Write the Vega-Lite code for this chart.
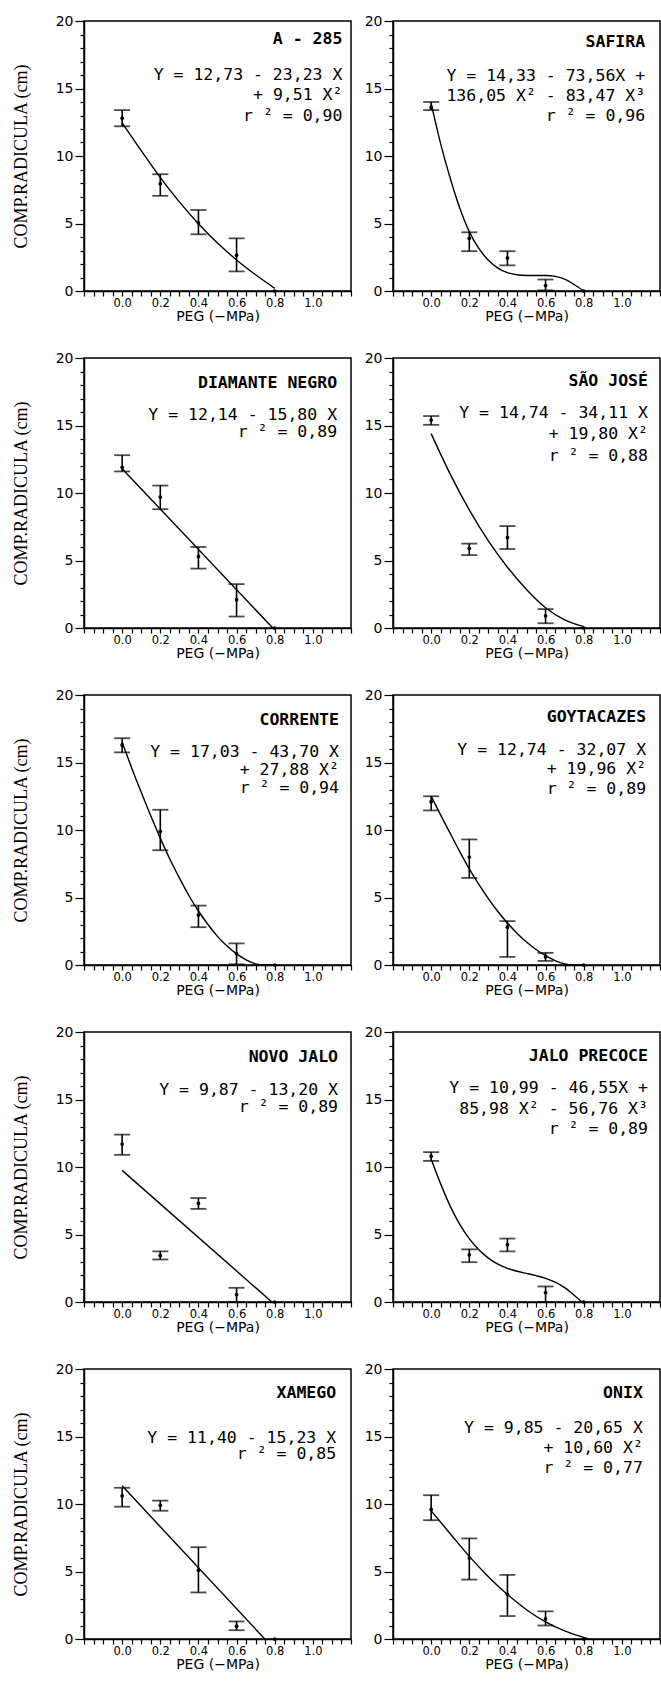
{
"$schema": "https://vega.github.io/schema/vega-lite/v6.json",
"padding": {"left": 11, "top": 13, "right": 0, "bottom": 0},
"background": "white",
"spacing": 25,
"datasets": {
"curves": [
{"c":"A - 285","x":0,"m":12.45},{"c":"A - 285","x":0.1,"m":10.4},{"c":"A - 285","x":0.2,"m":8.4},{"c":"A - 285","x":0.3,"m":6.6},{"c":"A - 285","x":0.4,"m":4.98},{"c":"A - 285","x":0.5,"m":3.55},{"c":"A - 285","x":0.6,"m":2.3},{"c":"A - 285","x":0.7,"m":1.2},{"c":"A - 285","x":0.8,"m":0.2},
{"c":"SAFIRA","x":0,"m":13.9},{"c":"SAFIRA","x":0.05,"m":10.9},{"c":"SAFIRA","x":0.1,"m":8.35},{"c":"SAFIRA","x":0.15,"m":6.15},{"c":"SAFIRA","x":0.2,"m":4.4},{"c":"SAFIRA","x":0.25,"m":3.15},{"c":"SAFIRA","x":0.3,"m":2.28},{"c":"SAFIRA","x":0.35,"m":1.7},{"c":"SAFIRA","x":0.4,"m":1.36},{"c":"SAFIRA","x":0.45,"m":1.2},{"c":"SAFIRA","x":0.5,"m":1.15},{"c":"SAFIRA","x":0.55,"m":1.15},{"c":"SAFIRA","x":0.6,"m":1.15},{"c":"SAFIRA","x":0.65,"m":1.08},{"c":"SAFIRA","x":0.7,"m":0.88},{"c":"SAFIRA","x":0.75,"m":0.48},{"c":"SAFIRA","x":0.8,"m":0},
{"c":"DIAMANTE NEGRO","x":0,"m":11.8},{"c":"DIAMANTE NEGRO","x":0.79,"m":0},
{"c":"SÃO JOSÉ","x":0,"m":14.4},{"c":"SÃO JOSÉ","x":0.1,"m":11.4},{"c":"SÃO JOSÉ","x":0.2,"m":8.75},{"c":"SÃO JOSÉ","x":0.3,"m":6.45},{"c":"SÃO JOSÉ","x":0.4,"m":4.5},{"c":"SÃO JOSÉ","x":0.5,"m":2.85},{"c":"SÃO JOSÉ","x":0.6,"m":1.5},{"c":"SÃO JOSÉ","x":0.7,"m":0.6},{"c":"SÃO JOSÉ","x":0.8,"m":0.1},
{"c":"CORRENTE","x":0,"m":16.5},{"c":"CORRENTE","x":0.05,"m":14.6},{"c":"CORRENTE","x":0.1,"m":12.8},{"c":"CORRENTE","x":0.15,"m":11.05},{"c":"CORRENTE","x":0.2,"m":9.4},{"c":"CORRENTE","x":0.25,"m":7.85},{"c":"CORRENTE","x":0.3,"m":6.45},{"c":"CORRENTE","x":0.35,"m":5.15},{"c":"CORRENTE","x":0.4,"m":4.0},{"c":"CORRENTE","x":0.45,"m":3.0},{"c":"CORRENTE","x":0.5,"m":2.12},{"c":"CORRENTE","x":0.55,"m":1.4},{"c":"CORRENTE","x":0.6,"m":0.82},{"c":"CORRENTE","x":0.65,"m":0.38},{"c":"CORRENTE","x":0.7,"m":0.08},{"c":"CORRENTE","x":0.73,"m":0},{"c":"CORRENTE","x":0.8,"m":0},
{"c":"GOYTACAZES","x":0,"m":12.5},{"c":"GOYTACAZES","x":0.05,"m":11.1},{"c":"GOYTACAZES","x":0.1,"m":9.75},{"c":"GOYTACAZES","x":0.15,"m":8.4},{"c":"GOYTACAZES","x":0.2,"m":7.12},{"c":"GOYTACAZES","x":0.25,"m":5.97},{"c":"GOYTACAZES","x":0.3,"m":4.92},{"c":"GOYTACAZES","x":0.35,"m":3.96},{"c":"GOYTACAZES","x":0.4,"m":3.11},{"c":"GOYTACAZES","x":0.45,"m":2.36},{"c":"GOYTACAZES","x":0.5,"m":1.7},{"c":"GOYTACAZES","x":0.55,"m":1.15},{"c":"GOYTACAZES","x":0.6,"m":0.69},{"c":"GOYTACAZES","x":0.65,"m":0.33},{"c":"GOYTACAZES","x":0.7,"m":0.08},{"c":"GOYTACAZES","x":0.74,"m":0},{"c":"GOYTACAZES","x":0.8,"m":0},
{"c":"NOVO JALO","x":0,"m":9.75},{"c":"NOVO JALO","x":0.785,"m":0},
{"c":"JALO PRECOCE","x":0,"m":10.6},{"c":"JALO PRECOCE","x":0.05,"m":8.75},{"c":"JALO PRECOCE","x":0.1,"m":7.1},{"c":"JALO PRECOCE","x":0.15,"m":5.75},{"c":"JALO PRECOCE","x":0.2,"m":4.7},{"c":"JALO PRECOCE","x":0.25,"m":3.87},{"c":"JALO PRECOCE","x":0.3,"m":3.25},{"c":"JALO PRECOCE","x":0.35,"m":2.8},{"c":"JALO PRECOCE","x":0.4,"m":2.49},{"c":"JALO PRECOCE","x":0.45,"m":2.28},{"c":"JALO PRECOCE","x":0.5,"m":2.12},{"c":"JALO PRECOCE","x":0.55,"m":1.95},{"c":"JALO PRECOCE","x":0.6,"m":1.75},{"c":"JALO PRECOCE","x":0.65,"m":1.47},{"c":"JALO PRECOCE","x":0.7,"m":1.07},{"c":"JALO PRECOCE","x":0.75,"m":0.5},{"c":"JALO PRECOCE","x":0.79,"m":0},
{"c":"XAMEGO","x":0,"m":11.35},{"c":"XAMEGO","x":0.748,"m":0},
{"c":"ONIX","x":0,"m":9.5},{"c":"ONIX","x":0.1,"m":7.8},{"c":"ONIX","x":0.2,"m":6.12},{"c":"ONIX","x":0.3,"m":4.62},{"c":"ONIX","x":0.4,"m":3.3},{"c":"ONIX","x":0.5,"m":2.17},{"c":"ONIX","x":0.6,"m":1.27},{"c":"ONIX","x":0.7,"m":0.6},{"c":"ONIX","x":0.8,"m":0.12},{"c":"ONIX","x":0.82,"m":0.05}
],
"means": [
{"c":"A - 285","x":0,"m":12.8,"lo":12.2,"hi":13.4},{"c":"A - 285","x":0.2,"m":7.95,"lo":7.05,"hi":8.65},{"c":"A - 285","x":0.4,"m":5.05,"lo":4.2,"hi":6.0},{"c":"A - 285","x":0.6,"m":2.65,"lo":1.45,"hi":3.9},{"c":"A - 285","x":0.8,"m":0},
{"c":"SAFIRA","x":0,"m":13.6,"lo":13.4,"hi":14.0},{"c":"SAFIRA","x":0.2,"m":3.9,"lo":2.95,"hi":4.35},{"c":"SAFIRA","x":0.4,"m":2.45,"lo":1.9,"hi":2.95},{"c":"SAFIRA","x":0.6,"m":0.4,"lo":0.05,"hi":0.85},{"c":"SAFIRA","x":0.8,"m":0},
{"c":"DIAMANTE NEGRO","x":0,"m":11.9,"lo":11.6,"hi":12.8},{"c":"DIAMANTE NEGRO","x":0.2,"m":9.7,"lo":8.8,"hi":10.55},{"c":"DIAMANTE NEGRO","x":0.4,"m":5.3,"lo":4.4,"hi":6.0},{"c":"DIAMANTE NEGRO","x":0.6,"m":2.1,"lo":0.85,"hi":3.25},{"c":"DIAMANTE NEGRO","x":0.8,"m":0},
{"c":"SÃO JOSÉ","x":0,"m":15.4,"lo":15.05,"hi":15.7},{"c":"SÃO JOSÉ","x":0.2,"m":5.9,"lo":5.4,"hi":6.25},{"c":"SÃO JOSÉ","x":0.4,"m":6.7,"lo":5.85,"hi":7.55},{"c":"SÃO JOSÉ","x":0.6,"m":0.9,"lo":0.35,"hi":1.4},{"c":"SÃO JOSÉ","x":0.8,"m":0},
{"c":"CORRENTE","x":0,"m":16.3,"lo":15.75,"hi":16.8},{"c":"CORRENTE","x":0.2,"m":9.9,"lo":8.5,"hi":11.5},{"c":"CORRENTE","x":0.4,"m":3.7,"lo":2.8,"hi":4.4},{"c":"CORRENTE","x":0.6,"m":0.85,"lo":0.05,"hi":1.6},{"c":"CORRENTE","x":0.8,"m":0},
{"c":"GOYTACAZES","x":0,"m":12.1,"lo":11.45,"hi":12.5},{"c":"GOYTACAZES","x":0.2,"m":8.0,"lo":6.45,"hi":9.3},{"c":"GOYTACAZES","x":0.4,"m":2.8,"lo":0.6,"hi":3.25},{"c":"GOYTACAZES","x":0.6,"m":0.6,"lo":0.3,"hi":0.9},{"c":"GOYTACAZES","x":0.8,"m":0},
{"c":"NOVO JALO","x":0,"m":11.7,"lo":10.9,"hi":12.4},{"c":"NOVO JALO","x":0.2,"m":3.45,"lo":3.15,"hi":3.75},{"c":"NOVO JALO","x":0.4,"m":7.3,"lo":6.9,"hi":7.7},{"c":"NOVO JALO","x":0.6,"m":0.55,"lo":0.0,"hi":1.05},{"c":"NOVO JALO","x":0.8,"m":0},
{"c":"JALO PRECOCE","x":0,"m":10.8,"lo":10.45,"hi":11.1},{"c":"JALO PRECOCE","x":0.2,"m":3.5,"lo":2.95,"hi":3.9},{"c":"JALO PRECOCE","x":0.4,"m":4.25,"lo":3.75,"hi":4.7},{"c":"JALO PRECOCE","x":0.6,"m":0.7,"lo":0.0,"hi":1.15},{"c":"JALO PRECOCE","x":0.8,"m":0},
{"c":"XAMEGO","x":0,"m":10.6,"lo":9.8,"hi":11.2},{"c":"XAMEGO","x":0.2,"m":9.9,"lo":9.5,"hi":10.25},{"c":"XAMEGO","x":0.4,"m":5.1,"lo":3.45,"hi":6.8},{"c":"XAMEGO","x":0.6,"m":0.95,"lo":0.65,"hi":1.3},{"c":"XAMEGO","x":0.8,"m":0},
{"c":"ONIX","x":0,"m":9.6,"lo":8.8,"hi":10.65},{"c":"ONIX","x":0.2,"m":6.0,"lo":4.4,"hi":7.45},{"c":"ONIX","x":0.4,"m":3.3,"lo":1.7,"hi":4.75},{"c":"ONIX","x":0.6,"m":1.5,"lo":1.0,"hi":2.05},{"c":"ONIX","x":0.8,"m":0}
],
"labels": [
{"c":"A - 285","eq":["Y = 12,73 - 23,23 X","+ 9,51 X²","r ² = 0,90"]},
{"c":"SAFIRA","eq":["Y = 14,33 - 73,56X +","136,05 X² - 83,47 X³","r ² = 0,96"]},
{"c":"DIAMANTE NEGRO","eq":["Y = 12,14 - 15,80 X","r ² = 0,89"]},
{"c":"SÃO JOSÉ","eq":["Y = 14,74 - 34,11 X","+ 19,80 X²","r ² = 0,88"]},
{"c":"CORRENTE","eq":["Y = 17,03 - 43,70 X","+ 27,88 X²","r ² = 0,94"]},
{"c":"GOYTACAZES","eq":["Y = 12,74 - 32,07 X","+ 19,96 X²","r ² = 0,89"]},
{"c":"NOVO JALO","eq":["Y = 9,87 - 13,20 X","r ² = 0,89"]},
{"c":"JALO PRECOCE","eq":["Y = 10,99 - 46,55X +","85,98 X² - 56,76 X³","r ² = 0,89"]},
{"c":"XAMEGO","eq":["Y = 11,40 - 15,23 X","r ² = 0,85"]},
{"c":"ONIX","eq":["Y = 9,85 - 20,65 X","+ 10,60 X²","r ² = 0,77"]}
]
},
"vconcat": [
{"spacing": 10, "hconcat": [
{"width": 267, "height": 270, "layer": [
{"data": {"name": "curves"}, "transform": [{"filter": {"field": "c", "equal": "A - 285"}}], "mark": {"type": "line", "color": "black", "strokeWidth": 1.4, "interpolate": "monotone"}, "encoding": {
"x": {"field": "x", "type": "quantitative", "scale": {"domain": [-0.2, 1.2], "nice": false, "zero": false}, "axis": {"title": "PEG (−MPa)", "values": [-0.2,-0.15,-0.1,-0.05,0,0.05,0.1,0.15,0.2,0.25,0.3,0.35,0.4,0.45,0.5,0.55,0.6,0.65,0.7,0.75,0.8,0.85,0.9,0.95,1,1.05,1.1,1.15,1.2], "labelExpr": "datum.value > -0.01 && datum.value < 1.01 && abs(datum.value * 5 - round(datum.value * 5)) < 0.001 ? format(datum.value, '.1f') : ''"}},
"y": {"field": "m", "type": "quantitative", "scale": {"domain": [0, 20], "nice": false}, "axis": {"title": "COMP.RADICULA (cm)", "values": [0,1,2,3,4,5,6,7,8,9,10,11,12,13,14,15,16,17,18,19,20], "labelExpr": "datum.value % 5 === 0 ? datum.label : ''", "tickSize": {"condition": {"test": "datum.value % 5 === 0", "value": 9}, "value": 4}}}}},
{"data": {"name": "means"}, "transform": [{"filter": {"field": "c", "equal": "A - 285"}}, {"filter": "isValid(datum.lo)"}], "mark": {"type": "errorbar", "color": "black", "thickness": 1.6, "ticks": {"size": 16, "thickness": 1.8, "color": "black"}}, "encoding": {
"x": {"field": "x", "type": "quantitative", "scale": {"domain": [-0.2, 1.2], "nice": false, "zero": false}, "axis": {"title": "PEG (−MPa)", "values": [-0.2,-0.15,-0.1,-0.05,0,0.05,0.1,0.15,0.2,0.25,0.3,0.35,0.4,0.45,0.5,0.55,0.6,0.65,0.7,0.75,0.8,0.85,0.9,0.95,1,1.05,1.1,1.15,1.2], "labelExpr": "datum.value > -0.01 && datum.value < 1.01 && abs(datum.value * 5 - round(datum.value * 5)) < 0.001 ? format(datum.value, '.1f') : ''"}},
"y": {"field": "lo", "type": "quantitative", "scale": {"domain": [0, 20], "nice": false}, "axis": {"title": "COMP.RADICULA (cm)", "values": [0,1,2,3,4,5,6,7,8,9,10,11,12,13,14,15,16,17,18,19,20], "labelExpr": "datum.value % 5 === 0 ? datum.label : ''", "tickSize": {"condition": {"test": "datum.value % 5 === 0", "value": 9}, "value": 4}}}, "y2": {"field": "hi"}}},
{"data": {"name": "means"}, "transform": [{"filter": {"field": "c", "equal": "A - 285"}}], "mark": {"type": "circle", "color": "black", "size": 14, "opacity": 1}, "encoding": {
"x": {"field": "x", "type": "quantitative", "scale": {"domain": [-0.2, 1.2], "nice": false, "zero": false}, "axis": {"title": "PEG (−MPa)", "values": [-0.2,-0.15,-0.1,-0.05,0,0.05,0.1,0.15,0.2,0.25,0.3,0.35,0.4,0.45,0.5,0.55,0.6,0.65,0.7,0.75,0.8,0.85,0.9,0.95,1,1.05,1.1,1.15,1.2], "labelExpr": "datum.value > -0.01 && datum.value < 1.01 && abs(datum.value * 5 - round(datum.value * 5)) < 0.001 ? format(datum.value, '.1f') : ''"}},
"y": {"field": "m", "type": "quantitative", "scale": {"domain": [0, 20], "nice": false}, "axis": {"title": "COMP.RADICULA (cm)", "values": [0,1,2,3,4,5,6,7,8,9,10,11,12,13,14,15,16,17,18,19,20], "labelExpr": "datum.value % 5 === 0 ? datum.label : ''", "tickSize": {"condition": {"test": "datum.value % 5 === 0", "value": 9}, "value": 4}}}}},
{"data": {"name": "labels"}, "transform": [{"filter": {"field": "c", "equal": "A - 285"}}], "mark": {"type": "text", "font": "DejaVu Sans Mono", "fontWeight": "bold", "fontSize": 16.5, "align": "right", "baseline": "alphabetic", "color": "black"}, "encoding": {"text": {"field": "c", "type": "nominal"},
"x": {"datum": 1.155, "type": "quantitative", "scale": {"domain": [-0.2, 1.2], "nice": false, "zero": false}, "axis": {"title": "PEG (−MPa)", "values": [-0.2,-0.15,-0.1,-0.05,0,0.05,0.1,0.15,0.2,0.25,0.3,0.35,0.4,0.45,0.5,0.55,0.6,0.65,0.7,0.75,0.8,0.85,0.9,0.95,1,1.05,1.1,1.15,1.2], "labelExpr": "datum.value > -0.01 && datum.value < 1.01 && abs(datum.value * 5 - round(datum.value * 5)) < 0.001 ? format(datum.value, '.1f') : ''"}},
"y": {"datum": 18.3, "type": "quantitative", "scale": {"domain": [0, 20], "nice": false}, "axis": {"title": "COMP.RADICULA (cm)", "values": [0,1,2,3,4,5,6,7,8,9,10,11,12,13,14,15,16,17,18,19,20], "labelExpr": "datum.value % 5 === 0 ? datum.label : ''", "tickSize": {"condition": {"test": "datum.value % 5 === 0", "value": 9}, "value": 4}}}}},
{"data": {"name": "labels"}, "transform": [{"filter": {"field": "c", "equal": "A - 285"}}], "mark": {"type": "text", "font": "DejaVu Sans Mono", "fontSize": 16.5, "align": "right", "baseline": "alphabetic", "lineHeight": 20.5, "color": "black"}, "encoding": {"text": {"field": "eq", "type": "nominal"},
"x": {"datum": 1.155, "type": "quantitative", "scale": {"domain": [-0.2, 1.2], "nice": false, "zero": false}, "axis": {"title": "PEG (−MPa)", "values": [-0.2,-0.15,-0.1,-0.05,0,0.05,0.1,0.15,0.2,0.25,0.3,0.35,0.4,0.45,0.5,0.55,0.6,0.65,0.7,0.75,0.8,0.85,0.9,0.95,1,1.05,1.1,1.15,1.2], "labelExpr": "datum.value > -0.01 && datum.value < 1.01 && abs(datum.value * 5 - round(datum.value * 5)) < 0.001 ? format(datum.value, '.1f') : ''"}},
"y": {"datum": 15.63, "type": "quantitative", "scale": {"domain": [0, 20], "nice": false}, "axis": {"title": "COMP.RADICULA (cm)", "values": [0,1,2,3,4,5,6,7,8,9,10,11,12,13,14,15,16,17,18,19,20], "labelExpr": "datum.value % 5 === 0 ? datum.label : ''", "tickSize": {"condition": {"test": "datum.value % 5 === 0", "value": 9}, "value": 4}}}}}
]},
{"width": 267, "height": 270, "layer": [
{"data": {"name": "curves"}, "transform": [{"filter": {"field": "c", "equal": "SAFIRA"}}], "mark": {"type": "line", "color": "black", "strokeWidth": 1.4, "interpolate": "monotone"}, "encoding": {
"x": {"field": "x", "type": "quantitative", "scale": {"domain": [-0.2, 1.2], "nice": false, "zero": false}, "axis": {"title": "PEG (−MPa)", "values": [-0.2,-0.15,-0.1,-0.05,0,0.05,0.1,0.15,0.2,0.25,0.3,0.35,0.4,0.45,0.5,0.55,0.6,0.65,0.7,0.75,0.8,0.85,0.9,0.95,1,1.05,1.1,1.15,1.2], "labelExpr": "datum.value > -0.01 && datum.value < 1.01 && abs(datum.value * 5 - round(datum.value * 5)) < 0.001 ? format(datum.value, '.1f') : ''"}},
"y": {"field": "m", "type": "quantitative", "scale": {"domain": [0, 20], "nice": false}, "axis": {"title": null, "values": [0,1,2,3,4,5,6,7,8,9,10,11,12,13,14,15,16,17,18,19,20], "labelExpr": "datum.value % 5 === 0 ? datum.label : ''", "tickSize": {"condition": {"test": "datum.value % 5 === 0", "value": 9}, "value": 4}}}}},
{"data": {"name": "means"}, "transform": [{"filter": {"field": "c", "equal": "SAFIRA"}}, {"filter": "isValid(datum.lo)"}], "mark": {"type": "errorbar", "color": "black", "thickness": 1.6, "ticks": {"size": 16, "thickness": 1.8, "color": "black"}}, "encoding": {
"x": {"field": "x", "type": "quantitative", "scale": {"domain": [-0.2, 1.2], "nice": false, "zero": false}, "axis": {"title": "PEG (−MPa)", "values": [-0.2,-0.15,-0.1,-0.05,0,0.05,0.1,0.15,0.2,0.25,0.3,0.35,0.4,0.45,0.5,0.55,0.6,0.65,0.7,0.75,0.8,0.85,0.9,0.95,1,1.05,1.1,1.15,1.2], "labelExpr": "datum.value > -0.01 && datum.value < 1.01 && abs(datum.value * 5 - round(datum.value * 5)) < 0.001 ? format(datum.value, '.1f') : ''"}},
"y": {"field": "lo", "type": "quantitative", "scale": {"domain": [0, 20], "nice": false}, "axis": {"title": null, "values": [0,1,2,3,4,5,6,7,8,9,10,11,12,13,14,15,16,17,18,19,20], "labelExpr": "datum.value % 5 === 0 ? datum.label : ''", "tickSize": {"condition": {"test": "datum.value % 5 === 0", "value": 9}, "value": 4}}}, "y2": {"field": "hi"}}},
{"data": {"name": "means"}, "transform": [{"filter": {"field": "c", "equal": "SAFIRA"}}], "mark": {"type": "circle", "color": "black", "size": 14, "opacity": 1}, "encoding": {
"x": {"field": "x", "type": "quantitative", "scale": {"domain": [-0.2, 1.2], "nice": false, "zero": false}, "axis": {"title": "PEG (−MPa)", "values": [-0.2,-0.15,-0.1,-0.05,0,0.05,0.1,0.15,0.2,0.25,0.3,0.35,0.4,0.45,0.5,0.55,0.6,0.65,0.7,0.75,0.8,0.85,0.9,0.95,1,1.05,1.1,1.15,1.2], "labelExpr": "datum.value > -0.01 && datum.value < 1.01 && abs(datum.value * 5 - round(datum.value * 5)) < 0.001 ? format(datum.value, '.1f') : ''"}},
"y": {"field": "m", "type": "quantitative", "scale": {"domain": [0, 20], "nice": false}, "axis": {"title": null, "values": [0,1,2,3,4,5,6,7,8,9,10,11,12,13,14,15,16,17,18,19,20], "labelExpr": "datum.value % 5 === 0 ? datum.label : ''", "tickSize": {"condition": {"test": "datum.value % 5 === 0", "value": 9}, "value": 4}}}}},
{"data": {"name": "labels"}, "transform": [{"filter": {"field": "c", "equal": "SAFIRA"}}], "mark": {"type": "text", "font": "DejaVu Sans Mono", "fontWeight": "bold", "fontSize": 16.5, "align": "right", "baseline": "alphabetic", "color": "black"}, "encoding": {"text": {"field": "c", "type": "nominal"},
"x": {"datum": 1.122, "type": "quantitative", "scale": {"domain": [-0.2, 1.2], "nice": false, "zero": false}, "axis": {"title": "PEG (−MPa)", "values": [-0.2,-0.15,-0.1,-0.05,0,0.05,0.1,0.15,0.2,0.25,0.3,0.35,0.4,0.45,0.5,0.55,0.6,0.65,0.7,0.75,0.8,0.85,0.9,0.95,1,1.05,1.1,1.15,1.2], "labelExpr": "datum.value > -0.01 && datum.value < 1.01 && abs(datum.value * 5 - round(datum.value * 5)) < 0.001 ? format(datum.value, '.1f') : ''"}},
"y": {"datum": 18.07, "type": "quantitative", "scale": {"domain": [0, 20], "nice": false}, "axis": {"title": null, "values": [0,1,2,3,4,5,6,7,8,9,10,11,12,13,14,15,16,17,18,19,20], "labelExpr": "datum.value % 5 === 0 ? datum.label : ''", "tickSize": {"condition": {"test": "datum.value % 5 === 0", "value": 9}, "value": 4}}}}},
{"data": {"name": "labels"}, "transform": [{"filter": {"field": "c", "equal": "SAFIRA"}}], "mark": {"type": "text", "font": "DejaVu Sans Mono", "fontSize": 16.5, "align": "right", "baseline": "alphabetic", "lineHeight": 20, "color": "black"}, "encoding": {"text": {"field": "eq", "type": "nominal"},
"x": {"datum": 1.122, "type": "quantitative", "scale": {"domain": [-0.2, 1.2], "nice": false, "zero": false}, "axis": {"title": "PEG (−MPa)", "values": [-0.2,-0.15,-0.1,-0.05,0,0.05,0.1,0.15,0.2,0.25,0.3,0.35,0.4,0.45,0.5,0.55,0.6,0.65,0.7,0.75,0.8,0.85,0.9,0.95,1,1.05,1.1,1.15,1.2], "labelExpr": "datum.value > -0.01 && datum.value < 1.01 && abs(datum.value * 5 - round(datum.value * 5)) < 0.001 ? format(datum.value, '.1f') : ''"}},
"y": {"datum": 15.56, "type": "quantitative", "scale": {"domain": [0, 20], "nice": false}, "axis": {"title": null, "values": [0,1,2,3,4,5,6,7,8,9,10,11,12,13,14,15,16,17,18,19,20], "labelExpr": "datum.value % 5 === 0 ? datum.label : ''", "tickSize": {"condition": {"test": "datum.value % 5 === 0", "value": 9}, "value": 4}}}}}
]}
]},
{"spacing": 10, "hconcat": [
{"width": 267, "height": 270, "layer": [
{"data": {"name": "curves"}, "transform": [{"filter": {"field": "c", "equal": "DIAMANTE NEGRO"}}], "mark": {"type": "line", "color": "black", "strokeWidth": 1.4, "interpolate": "monotone"}, "encoding": {
"x": {"field": "x", "type": "quantitative", "scale": {"domain": [-0.2, 1.2], "nice": false, "zero": false}, "axis": {"title": "PEG (−MPa)", "values": [-0.2,-0.15,-0.1,-0.05,0,0.05,0.1,0.15,0.2,0.25,0.3,0.35,0.4,0.45,0.5,0.55,0.6,0.65,0.7,0.75,0.8,0.85,0.9,0.95,1,1.05,1.1,1.15,1.2], "labelExpr": "datum.value > -0.01 && datum.value < 1.01 && abs(datum.value * 5 - round(datum.value * 5)) < 0.001 ? format(datum.value, '.1f') : ''"}},
"y": {"field": "m", "type": "quantitative", "scale": {"domain": [0, 20], "nice": false}, "axis": {"title": "COMP.RADICULA (cm)", "values": [0,1,2,3,4,5,6,7,8,9,10,11,12,13,14,15,16,17,18,19,20], "labelExpr": "datum.value % 5 === 0 ? datum.label : ''", "tickSize": {"condition": {"test": "datum.value % 5 === 0", "value": 9}, "value": 4}}}}},
{"data": {"name": "means"}, "transform": [{"filter": {"field": "c", "equal": "DIAMANTE NEGRO"}}, {"filter": "isValid(datum.lo)"}], "mark": {"type": "errorbar", "color": "black", "thickness": 1.6, "ticks": {"size": 16, "thickness": 1.8, "color": "black"}}, "encoding": {
"x": {"field": "x", "type": "quantitative", "scale": {"domain": [-0.2, 1.2], "nice": false, "zero": false}, "axis": {"title": "PEG (−MPa)", "values": [-0.2,-0.15,-0.1,-0.05,0,0.05,0.1,0.15,0.2,0.25,0.3,0.35,0.4,0.45,0.5,0.55,0.6,0.65,0.7,0.75,0.8,0.85,0.9,0.95,1,1.05,1.1,1.15,1.2], "labelExpr": "datum.value > -0.01 && datum.value < 1.01 && abs(datum.value * 5 - round(datum.value * 5)) < 0.001 ? format(datum.value, '.1f') : ''"}},
"y": {"field": "lo", "type": "quantitative", "scale": {"domain": [0, 20], "nice": false}, "axis": {"title": "COMP.RADICULA (cm)", "values": [0,1,2,3,4,5,6,7,8,9,10,11,12,13,14,15,16,17,18,19,20], "labelExpr": "datum.value % 5 === 0 ? datum.label : ''", "tickSize": {"condition": {"test": "datum.value % 5 === 0", "value": 9}, "value": 4}}}, "y2": {"field": "hi"}}},
{"data": {"name": "means"}, "transform": [{"filter": {"field": "c", "equal": "DIAMANTE NEGRO"}}], "mark": {"type": "circle", "color": "black", "size": 14, "opacity": 1}, "encoding": {
"x": {"field": "x", "type": "quantitative", "scale": {"domain": [-0.2, 1.2], "nice": false, "zero": false}, "axis": {"title": "PEG (−MPa)", "values": [-0.2,-0.15,-0.1,-0.05,0,0.05,0.1,0.15,0.2,0.25,0.3,0.35,0.4,0.45,0.5,0.55,0.6,0.65,0.7,0.75,0.8,0.85,0.9,0.95,1,1.05,1.1,1.15,1.2], "labelExpr": "datum.value > -0.01 && datum.value < 1.01 && abs(datum.value * 5 - round(datum.value * 5)) < 0.001 ? format(datum.value, '.1f') : ''"}},
"y": {"field": "m", "type": "quantitative", "scale": {"domain": [0, 20], "nice": false}, "axis": {"title": "COMP.RADICULA (cm)", "values": [0,1,2,3,4,5,6,7,8,9,10,11,12,13,14,15,16,17,18,19,20], "labelExpr": "datum.value % 5 === 0 ? datum.label : ''", "tickSize": {"condition": {"test": "datum.value % 5 === 0", "value": 9}, "value": 4}}}}},
{"data": {"name": "labels"}, "transform": [{"filter": {"field": "c", "equal": "DIAMANTE NEGRO"}}], "mark": {"type": "text", "font": "DejaVu Sans Mono", "fontWeight": "bold", "fontSize": 16.5, "align": "right", "baseline": "alphabetic", "color": "black"}, "encoding": {"text": {"field": "c", "type": "nominal"},
"x": {"datum": 1.127, "type": "quantitative", "scale": {"domain": [-0.2, 1.2], "nice": false, "zero": false}, "axis": {"title": "PEG (−MPa)", "values": [-0.2,-0.15,-0.1,-0.05,0,0.05,0.1,0.15,0.2,0.25,0.3,0.35,0.4,0.45,0.5,0.55,0.6,0.65,0.7,0.75,0.8,0.85,0.9,0.95,1,1.05,1.1,1.15,1.2], "labelExpr": "datum.value > -0.01 && datum.value < 1.01 && abs(datum.value * 5 - round(datum.value * 5)) < 0.001 ? format(datum.value, '.1f') : ''"}},
"y": {"datum": 17.8, "type": "quantitative", "scale": {"domain": [0, 20], "nice": false}, "axis": {"title": "COMP.RADICULA (cm)", "values": [0,1,2,3,4,5,6,7,8,9,10,11,12,13,14,15,16,17,18,19,20], "labelExpr": "datum.value % 5 === 0 ? datum.label : ''", "tickSize": {"condition": {"test": "datum.value % 5 === 0", "value": 9}, "value": 4}}}}},
{"data": {"name": "labels"}, "transform": [{"filter": {"field": "c", "equal": "DIAMANTE NEGRO"}}], "mark": {"type": "text", "font": "DejaVu Sans Mono", "fontSize": 16.5, "align": "right", "baseline": "alphabetic", "lineHeight": 16.5, "color": "black"}, "encoding": {"text": {"field": "eq", "type": "nominal"},
"x": {"datum": 1.127, "type": "quantitative", "scale": {"domain": [-0.2, 1.2], "nice": false, "zero": false}, "axis": {"title": "PEG (−MPa)", "values": [-0.2,-0.15,-0.1,-0.05,0,0.05,0.1,0.15,0.2,0.25,0.3,0.35,0.4,0.45,0.5,0.55,0.6,0.65,0.7,0.75,0.8,0.85,0.9,0.95,1,1.05,1.1,1.15,1.2], "labelExpr": "datum.value > -0.01 && datum.value < 1.01 && abs(datum.value * 5 - round(datum.value * 5)) < 0.001 ? format(datum.value, '.1f') : ''"}},
"y": {"datum": 15.4, "type": "quantitative", "scale": {"domain": [0, 20], "nice": false}, "axis": {"title": "COMP.RADICULA (cm)", "values": [0,1,2,3,4,5,6,7,8,9,10,11,12,13,14,15,16,17,18,19,20], "labelExpr": "datum.value % 5 === 0 ? datum.label : ''", "tickSize": {"condition": {"test": "datum.value % 5 === 0", "value": 9}, "value": 4}}}}}
]},
{"width": 267, "height": 270, "layer": [
{"data": {"name": "curves"}, "transform": [{"filter": {"field": "c", "equal": "SÃO JOSÉ"}}], "mark": {"type": "line", "color": "black", "strokeWidth": 1.4, "interpolate": "monotone"}, "encoding": {
"x": {"field": "x", "type": "quantitative", "scale": {"domain": [-0.2, 1.2], "nice": false, "zero": false}, "axis": {"title": "PEG (−MPa)", "values": [-0.2,-0.15,-0.1,-0.05,0,0.05,0.1,0.15,0.2,0.25,0.3,0.35,0.4,0.45,0.5,0.55,0.6,0.65,0.7,0.75,0.8,0.85,0.9,0.95,1,1.05,1.1,1.15,1.2], "labelExpr": "datum.value > -0.01 && datum.value < 1.01 && abs(datum.value * 5 - round(datum.value * 5)) < 0.001 ? format(datum.value, '.1f') : ''"}},
"y": {"field": "m", "type": "quantitative", "scale": {"domain": [0, 20], "nice": false}, "axis": {"title": null, "values": [0,1,2,3,4,5,6,7,8,9,10,11,12,13,14,15,16,17,18,19,20], "labelExpr": "datum.value % 5 === 0 ? datum.label : ''", "tickSize": {"condition": {"test": "datum.value % 5 === 0", "value": 9}, "value": 4}}}}},
{"data": {"name": "means"}, "transform": [{"filter": {"field": "c", "equal": "SÃO JOSÉ"}}, {"filter": "isValid(datum.lo)"}], "mark": {"type": "errorbar", "color": "black", "thickness": 1.6, "ticks": {"size": 16, "thickness": 1.8, "color": "black"}}, "encoding": {
"x": {"field": "x", "type": "quantitative", "scale": {"domain": [-0.2, 1.2], "nice": false, "zero": false}, "axis": {"title": "PEG (−MPa)", "values": [-0.2,-0.15,-0.1,-0.05,0,0.05,0.1,0.15,0.2,0.25,0.3,0.35,0.4,0.45,0.5,0.55,0.6,0.65,0.7,0.75,0.8,0.85,0.9,0.95,1,1.05,1.1,1.15,1.2], "labelExpr": "datum.value > -0.01 && datum.value < 1.01 && abs(datum.value * 5 - round(datum.value * 5)) < 0.001 ? format(datum.value, '.1f') : ''"}},
"y": {"field": "lo", "type": "quantitative", "scale": {"domain": [0, 20], "nice": false}, "axis": {"title": null, "values": [0,1,2,3,4,5,6,7,8,9,10,11,12,13,14,15,16,17,18,19,20], "labelExpr": "datum.value % 5 === 0 ? datum.label : ''", "tickSize": {"condition": {"test": "datum.value % 5 === 0", "value": 9}, "value": 4}}}, "y2": {"field": "hi"}}},
{"data": {"name": "means"}, "transform": [{"filter": {"field": "c", "equal": "SÃO JOSÉ"}}], "mark": {"type": "circle", "color": "black", "size": 14, "opacity": 1}, "encoding": {
"x": {"field": "x", "type": "quantitative", "scale": {"domain": [-0.2, 1.2], "nice": false, "zero": false}, "axis": {"title": "PEG (−MPa)", "values": [-0.2,-0.15,-0.1,-0.05,0,0.05,0.1,0.15,0.2,0.25,0.3,0.35,0.4,0.45,0.5,0.55,0.6,0.65,0.7,0.75,0.8,0.85,0.9,0.95,1,1.05,1.1,1.15,1.2], "labelExpr": "datum.value > -0.01 && datum.value < 1.01 && abs(datum.value * 5 - round(datum.value * 5)) < 0.001 ? format(datum.value, '.1f') : ''"}},
"y": {"field": "m", "type": "quantitative", "scale": {"domain": [0, 20], "nice": false}, "axis": {"title": null, "values": [0,1,2,3,4,5,6,7,8,9,10,11,12,13,14,15,16,17,18,19,20], "labelExpr": "datum.value % 5 === 0 ? datum.label : ''", "tickSize": {"condition": {"test": "datum.value % 5 === 0", "value": 9}, "value": 4}}}}},
{"data": {"name": "labels"}, "transform": [{"filter": {"field": "c", "equal": "SÃO JOSÉ"}}], "mark": {"type": "text", "font": "DejaVu Sans Mono", "fontWeight": "bold", "fontSize": 16.5, "align": "right", "baseline": "alphabetic", "color": "black"}, "encoding": {"text": {"field": "c", "type": "nominal"},
"x": {"datum": 1.137, "type": "quantitative", "scale": {"domain": [-0.2, 1.2], "nice": false, "zero": false}, "axis": {"title": "PEG (−MPa)", "values": [-0.2,-0.15,-0.1,-0.05,0,0.05,0.1,0.15,0.2,0.25,0.3,0.35,0.4,0.45,0.5,0.55,0.6,0.65,0.7,0.75,0.8,0.85,0.9,0.95,1,1.05,1.1,1.15,1.2], "labelExpr": "datum.value > -0.01 && datum.value < 1.01 && abs(datum.value * 5 - round(datum.value * 5)) < 0.001 ? format(datum.value, '.1f') : ''"}},
"y": {"datum": 17.93, "type": "quantitative", "scale": {"domain": [0, 20], "nice": false}, "axis": {"title": null, "values": [0,1,2,3,4,5,6,7,8,9,10,11,12,13,14,15,16,17,18,19,20], "labelExpr": "datum.value % 5 === 0 ? datum.label : ''", "tickSize": {"condition": {"test": "datum.value % 5 === 0", "value": 9}, "value": 4}}}}},
{"data": {"name": "labels"}, "transform": [{"filter": {"field": "c", "equal": "SÃO JOSÉ"}}], "mark": {"type": "text", "font": "DejaVu Sans Mono", "fontSize": 16.5, "align": "right", "baseline": "alphabetic", "lineHeight": 21.5, "color": "black"}, "encoding": {"text": {"field": "eq", "type": "nominal"},
"x": {"datum": 1.137, "type": "quantitative", "scale": {"domain": [-0.2, 1.2], "nice": false, "zero": false}, "axis": {"title": "PEG (−MPa)", "values": [-0.2,-0.15,-0.1,-0.05,0,0.05,0.1,0.15,0.2,0.25,0.3,0.35,0.4,0.45,0.5,0.55,0.6,0.65,0.7,0.75,0.8,0.85,0.9,0.95,1,1.05,1.1,1.15,1.2], "labelExpr": "datum.value > -0.01 && datum.value < 1.01 && abs(datum.value * 5 - round(datum.value * 5)) < 0.001 ? format(datum.value, '.1f') : ''"}},
"y": {"datum": 15.56, "type": "quantitative", "scale": {"domain": [0, 20], "nice": false}, "axis": {"title": null, "values": [0,1,2,3,4,5,6,7,8,9,10,11,12,13,14,15,16,17,18,19,20], "labelExpr": "datum.value % 5 === 0 ? datum.label : ''", "tickSize": {"condition": {"test": "datum.value % 5 === 0", "value": 9}, "value": 4}}}}}
]}
]},
{"spacing": 10, "hconcat": [
{"width": 267, "height": 270, "layer": [
{"data": {"name": "curves"}, "transform": [{"filter": {"field": "c", "equal": "CORRENTE"}}], "mark": {"type": "line", "color": "black", "strokeWidth": 1.4, "interpolate": "monotone"}, "encoding": {
"x": {"field": "x", "type": "quantitative", "scale": {"domain": [-0.2, 1.2], "nice": false, "zero": false}, "axis": {"title": "PEG (−MPa)", "values": [-0.2,-0.15,-0.1,-0.05,0,0.05,0.1,0.15,0.2,0.25,0.3,0.35,0.4,0.45,0.5,0.55,0.6,0.65,0.7,0.75,0.8,0.85,0.9,0.95,1,1.05,1.1,1.15,1.2], "labelExpr": "datum.value > -0.01 && datum.value < 1.01 && abs(datum.value * 5 - round(datum.value * 5)) < 0.001 ? format(datum.value, '.1f') : ''"}},
"y": {"field": "m", "type": "quantitative", "scale": {"domain": [0, 20], "nice": false}, "axis": {"title": "COMP.RADICULA (cm)", "values": [0,1,2,3,4,5,6,7,8,9,10,11,12,13,14,15,16,17,18,19,20], "labelExpr": "datum.value % 5 === 0 ? datum.label : ''", "tickSize": {"condition": {"test": "datum.value % 5 === 0", "value": 9}, "value": 4}}}}},
{"data": {"name": "means"}, "transform": [{"filter": {"field": "c", "equal": "CORRENTE"}}, {"filter": "isValid(datum.lo)"}], "mark": {"type": "errorbar", "color": "black", "thickness": 1.6, "ticks": {"size": 16, "thickness": 1.8, "color": "black"}}, "encoding": {
"x": {"field": "x", "type": "quantitative", "scale": {"domain": [-0.2, 1.2], "nice": false, "zero": false}, "axis": {"title": "PEG (−MPa)", "values": [-0.2,-0.15,-0.1,-0.05,0,0.05,0.1,0.15,0.2,0.25,0.3,0.35,0.4,0.45,0.5,0.55,0.6,0.65,0.7,0.75,0.8,0.85,0.9,0.95,1,1.05,1.1,1.15,1.2], "labelExpr": "datum.value > -0.01 && datum.value < 1.01 && abs(datum.value * 5 - round(datum.value * 5)) < 0.001 ? format(datum.value, '.1f') : ''"}},
"y": {"field": "lo", "type": "quantitative", "scale": {"domain": [0, 20], "nice": false}, "axis": {"title": "COMP.RADICULA (cm)", "values": [0,1,2,3,4,5,6,7,8,9,10,11,12,13,14,15,16,17,18,19,20], "labelExpr": "datum.value % 5 === 0 ? datum.label : ''", "tickSize": {"condition": {"test": "datum.value % 5 === 0", "value": 9}, "value": 4}}}, "y2": {"field": "hi"}}},
{"data": {"name": "means"}, "transform": [{"filter": {"field": "c", "equal": "CORRENTE"}}], "mark": {"type": "circle", "color": "black", "size": 14, "opacity": 1}, "encoding": {
"x": {"field": "x", "type": "quantitative", "scale": {"domain": [-0.2, 1.2], "nice": false, "zero": false}, "axis": {"title": "PEG (−MPa)", "values": [-0.2,-0.15,-0.1,-0.05,0,0.05,0.1,0.15,0.2,0.25,0.3,0.35,0.4,0.45,0.5,0.55,0.6,0.65,0.7,0.75,0.8,0.85,0.9,0.95,1,1.05,1.1,1.15,1.2], "labelExpr": "datum.value > -0.01 && datum.value < 1.01 && abs(datum.value * 5 - round(datum.value * 5)) < 0.001 ? format(datum.value, '.1f') : ''"}},
"y": {"field": "m", "type": "quantitative", "scale": {"domain": [0, 20], "nice": false}, "axis": {"title": "COMP.RADICULA (cm)", "values": [0,1,2,3,4,5,6,7,8,9,10,11,12,13,14,15,16,17,18,19,20], "labelExpr": "datum.value % 5 === 0 ? datum.label : ''", "tickSize": {"condition": {"test": "datum.value % 5 === 0", "value": 9}, "value": 4}}}}},
{"data": {"name": "labels"}, "transform": [{"filter": {"field": "c", "equal": "CORRENTE"}}], "mark": {"type": "text", "font": "DejaVu Sans Mono", "fontWeight": "bold", "fontSize": 16.5, "align": "right", "baseline": "alphabetic", "color": "black"}, "encoding": {"text": {"field": "c", "type": "nominal"},
"x": {"datum": 1.137, "type": "quantitative", "scale": {"domain": [-0.2, 1.2], "nice": false, "zero": false}, "axis": {"title": "PEG (−MPa)", "values": [-0.2,-0.15,-0.1,-0.05,0,0.05,0.1,0.15,0.2,0.25,0.3,0.35,0.4,0.45,0.5,0.55,0.6,0.65,0.7,0.75,0.8,0.85,0.9,0.95,1,1.05,1.1,1.15,1.2], "labelExpr": "datum.value > -0.01 && datum.value < 1.01 && abs(datum.value * 5 - round(datum.value * 5)) < 0.001 ? format(datum.value, '.1f') : ''"}},
"y": {"datum": 17.78, "type": "quantitative", "scale": {"domain": [0, 20], "nice": false}, "axis": {"title": "COMP.RADICULA (cm)", "values": [0,1,2,3,4,5,6,7,8,9,10,11,12,13,14,15,16,17,18,19,20], "labelExpr": "datum.value % 5 === 0 ? datum.label : ''", "tickSize": {"condition": {"test": "datum.value % 5 === 0", "value": 9}, "value": 4}}}}},
{"data": {"name": "labels"}, "transform": [{"filter": {"field": "c", "equal": "CORRENTE"}}], "mark": {"type": "text", "font": "DejaVu Sans Mono", "fontSize": 16.5, "align": "right", "baseline": "alphabetic", "lineHeight": 18, "color": "black"}, "encoding": {"text": {"field": "eq", "type": "nominal"},
"x": {"datum": 1.137, "type": "quantitative", "scale": {"domain": [-0.2, 1.2], "nice": false, "zero": false}, "axis": {"title": "PEG (−MPa)", "values": [-0.2,-0.15,-0.1,-0.05,0,0.05,0.1,0.15,0.2,0.25,0.3,0.35,0.4,0.45,0.5,0.55,0.6,0.65,0.7,0.75,0.8,0.85,0.9,0.95,1,1.05,1.1,1.15,1.2], "labelExpr": "datum.value > -0.01 && datum.value < 1.01 && abs(datum.value * 5 - round(datum.value * 5)) < 0.001 ? format(datum.value, '.1f') : ''"}},
"y": {"datum": 15.4, "type": "quantitative", "scale": {"domain": [0, 20], "nice": false}, "axis": {"title": "COMP.RADICULA (cm)", "values": [0,1,2,3,4,5,6,7,8,9,10,11,12,13,14,15,16,17,18,19,20], "labelExpr": "datum.value % 5 === 0 ? datum.label : ''", "tickSize": {"condition": {"test": "datum.value % 5 === 0", "value": 9}, "value": 4}}}}}
]},
{"width": 267, "height": 270, "layer": [
{"data": {"name": "curves"}, "transform": [{"filter": {"field": "c", "equal": "GOYTACAZES"}}], "mark": {"type": "line", "color": "black", "strokeWidth": 1.4, "interpolate": "monotone"}, "encoding": {
"x": {"field": "x", "type": "quantitative", "scale": {"domain": [-0.2, 1.2], "nice": false, "zero": false}, "axis": {"title": "PEG (−MPa)", "values": [-0.2,-0.15,-0.1,-0.05,0,0.05,0.1,0.15,0.2,0.25,0.3,0.35,0.4,0.45,0.5,0.55,0.6,0.65,0.7,0.75,0.8,0.85,0.9,0.95,1,1.05,1.1,1.15,1.2], "labelExpr": "datum.value > -0.01 && datum.value < 1.01 && abs(datum.value * 5 - round(datum.value * 5)) < 0.001 ? format(datum.value, '.1f') : ''"}},
"y": {"field": "m", "type": "quantitative", "scale": {"domain": [0, 20], "nice": false}, "axis": {"title": null, "values": [0,1,2,3,4,5,6,7,8,9,10,11,12,13,14,15,16,17,18,19,20], "labelExpr": "datum.value % 5 === 0 ? datum.label : ''", "tickSize": {"condition": {"test": "datum.value % 5 === 0", "value": 9}, "value": 4}}}}},
{"data": {"name": "means"}, "transform": [{"filter": {"field": "c", "equal": "GOYTACAZES"}}, {"filter": "isValid(datum.lo)"}], "mark": {"type": "errorbar", "color": "black", "thickness": 1.6, "ticks": {"size": 16, "thickness": 1.8, "color": "black"}}, "encoding": {
"x": {"field": "x", "type": "quantitative", "scale": {"domain": [-0.2, 1.2], "nice": false, "zero": false}, "axis": {"title": "PEG (−MPa)", "values": [-0.2,-0.15,-0.1,-0.05,0,0.05,0.1,0.15,0.2,0.25,0.3,0.35,0.4,0.45,0.5,0.55,0.6,0.65,0.7,0.75,0.8,0.85,0.9,0.95,1,1.05,1.1,1.15,1.2], "labelExpr": "datum.value > -0.01 && datum.value < 1.01 && abs(datum.value * 5 - round(datum.value * 5)) < 0.001 ? format(datum.value, '.1f') : ''"}},
"y": {"field": "lo", "type": "quantitative", "scale": {"domain": [0, 20], "nice": false}, "axis": {"title": null, "values": [0,1,2,3,4,5,6,7,8,9,10,11,12,13,14,15,16,17,18,19,20], "labelExpr": "datum.value % 5 === 0 ? datum.label : ''", "tickSize": {"condition": {"test": "datum.value % 5 === 0", "value": 9}, "value": 4}}}, "y2": {"field": "hi"}}},
{"data": {"name": "means"}, "transform": [{"filter": {"field": "c", "equal": "GOYTACAZES"}}], "mark": {"type": "circle", "color": "black", "size": 14, "opacity": 1}, "encoding": {
"x": {"field": "x", "type": "quantitative", "scale": {"domain": [-0.2, 1.2], "nice": false, "zero": false}, "axis": {"title": "PEG (−MPa)", "values": [-0.2,-0.15,-0.1,-0.05,0,0.05,0.1,0.15,0.2,0.25,0.3,0.35,0.4,0.45,0.5,0.55,0.6,0.65,0.7,0.75,0.8,0.85,0.9,0.95,1,1.05,1.1,1.15,1.2], "labelExpr": "datum.value > -0.01 && datum.value < 1.01 && abs(datum.value * 5 - round(datum.value * 5)) < 0.001 ? format(datum.value, '.1f') : ''"}},
"y": {"field": "m", "type": "quantitative", "scale": {"domain": [0, 20], "nice": false}, "axis": {"title": null, "values": [0,1,2,3,4,5,6,7,8,9,10,11,12,13,14,15,16,17,18,19,20], "labelExpr": "datum.value % 5 === 0 ? datum.label : ''", "tickSize": {"condition": {"test": "datum.value % 5 === 0", "value": 9}, "value": 4}}}}},
{"data": {"name": "labels"}, "transform": [{"filter": {"field": "c", "equal": "GOYTACAZES"}}], "mark": {"type": "text", "font": "DejaVu Sans Mono", "fontWeight": "bold", "fontSize": 16.5, "align": "right", "baseline": "alphabetic", "color": "black"}, "encoding": {"text": {"field": "c", "type": "nominal"},
"x": {"datum": 1.127, "type": "quantitative", "scale": {"domain": [-0.2, 1.2], "nice": false, "zero": false}, "axis": {"title": "PEG (−MPa)", "values": [-0.2,-0.15,-0.1,-0.05,0,0.05,0.1,0.15,0.2,0.25,0.3,0.35,0.4,0.45,0.5,0.55,0.6,0.65,0.7,0.75,0.8,0.85,0.9,0.95,1,1.05,1.1,1.15,1.2], "labelExpr": "datum.value > -0.01 && datum.value < 1.01 && abs(datum.value * 5 - round(datum.value * 5)) < 0.001 ? format(datum.value, '.1f') : ''"}},
"y": {"datum": 18.0, "type": "quantitative", "scale": {"domain": [0, 20], "nice": false}, "axis": {"title": null, "values": [0,1,2,3,4,5,6,7,8,9,10,11,12,13,14,15,16,17,18,19,20], "labelExpr": "datum.value % 5 === 0 ? datum.label : ''", "tickSize": {"condition": {"test": "datum.value % 5 === 0", "value": 9}, "value": 4}}}}},
{"data": {"name": "labels"}, "transform": [{"filter": {"field": "c", "equal": "GOYTACAZES"}}], "mark": {"type": "text", "font": "DejaVu Sans Mono", "fontSize": 16.5, "align": "right", "baseline": "alphabetic", "lineHeight": 19.5, "color": "black"}, "encoding": {"text": {"field": "eq", "type": "nominal"},
"x": {"datum": 1.127, "type": "quantitative", "scale": {"domain": [-0.2, 1.2], "nice": false, "zero": false}, "axis": {"title": "PEG (−MPa)", "values": [-0.2,-0.15,-0.1,-0.05,0,0.05,0.1,0.15,0.2,0.25,0.3,0.35,0.4,0.45,0.5,0.55,0.6,0.65,0.7,0.75,0.8,0.85,0.9,0.95,1,1.05,1.1,1.15,1.2], "labelExpr": "datum.value > -0.01 && datum.value < 1.01 && abs(datum.value * 5 - round(datum.value * 5)) < 0.001 ? format(datum.value, '.1f') : ''"}},
"y": {"datum": 15.56, "type": "quantitative", "scale": {"domain": [0, 20], "nice": false}, "axis": {"title": null, "values": [0,1,2,3,4,5,6,7,8,9,10,11,12,13,14,15,16,17,18,19,20], "labelExpr": "datum.value % 5 === 0 ? datum.label : ''", "tickSize": {"condition": {"test": "datum.value % 5 === 0", "value": 9}, "value": 4}}}}}
]}
]},
{"spacing": 10, "hconcat": [
{"width": 267, "height": 270, "layer": [
{"data": {"name": "curves"}, "transform": [{"filter": {"field": "c", "equal": "NOVO JALO"}}], "mark": {"type": "line", "color": "black", "strokeWidth": 1.4, "interpolate": "monotone"}, "encoding": {
"x": {"field": "x", "type": "quantitative", "scale": {"domain": [-0.2, 1.2], "nice": false, "zero": false}, "axis": {"title": "PEG (−MPa)", "values": [-0.2,-0.15,-0.1,-0.05,0,0.05,0.1,0.15,0.2,0.25,0.3,0.35,0.4,0.45,0.5,0.55,0.6,0.65,0.7,0.75,0.8,0.85,0.9,0.95,1,1.05,1.1,1.15,1.2], "labelExpr": "datum.value > -0.01 && datum.value < 1.01 && abs(datum.value * 5 - round(datum.value * 5)) < 0.001 ? format(datum.value, '.1f') : ''"}},
"y": {"field": "m", "type": "quantitative", "scale": {"domain": [0, 20], "nice": false}, "axis": {"title": "COMP.RADICULA (cm)", "values": [0,1,2,3,4,5,6,7,8,9,10,11,12,13,14,15,16,17,18,19,20], "labelExpr": "datum.value % 5 === 0 ? datum.label : ''", "tickSize": {"condition": {"test": "datum.value % 5 === 0", "value": 9}, "value": 4}}}}},
{"data": {"name": "means"}, "transform": [{"filter": {"field": "c", "equal": "NOVO JALO"}}, {"filter": "isValid(datum.lo)"}], "mark": {"type": "errorbar", "color": "black", "thickness": 1.6, "ticks": {"size": 16, "thickness": 1.8, "color": "black"}}, "encoding": {
"x": {"field": "x", "type": "quantitative", "scale": {"domain": [-0.2, 1.2], "nice": false, "zero": false}, "axis": {"title": "PEG (−MPa)", "values": [-0.2,-0.15,-0.1,-0.05,0,0.05,0.1,0.15,0.2,0.25,0.3,0.35,0.4,0.45,0.5,0.55,0.6,0.65,0.7,0.75,0.8,0.85,0.9,0.95,1,1.05,1.1,1.15,1.2], "labelExpr": "datum.value > -0.01 && datum.value < 1.01 && abs(datum.value * 5 - round(datum.value * 5)) < 0.001 ? format(datum.value, '.1f') : ''"}},
"y": {"field": "lo", "type": "quantitative", "scale": {"domain": [0, 20], "nice": false}, "axis": {"title": "COMP.RADICULA (cm)", "values": [0,1,2,3,4,5,6,7,8,9,10,11,12,13,14,15,16,17,18,19,20], "labelExpr": "datum.value % 5 === 0 ? datum.label : ''", "tickSize": {"condition": {"test": "datum.value % 5 === 0", "value": 9}, "value": 4}}}, "y2": {"field": "hi"}}},
{"data": {"name": "means"}, "transform": [{"filter": {"field": "c", "equal": "NOVO JALO"}}], "mark": {"type": "circle", "color": "black", "size": 14, "opacity": 1}, "encoding": {
"x": {"field": "x", "type": "quantitative", "scale": {"domain": [-0.2, 1.2], "nice": false, "zero": false}, "axis": {"title": "PEG (−MPa)", "values": [-0.2,-0.15,-0.1,-0.05,0,0.05,0.1,0.15,0.2,0.25,0.3,0.35,0.4,0.45,0.5,0.55,0.6,0.65,0.7,0.75,0.8,0.85,0.9,0.95,1,1.05,1.1,1.15,1.2], "labelExpr": "datum.value > -0.01 && datum.value < 1.01 && abs(datum.value * 5 - round(datum.value * 5)) < 0.001 ? format(datum.value, '.1f') : ''"}},
"y": {"field": "m", "type": "quantitative", "scale": {"domain": [0, 20], "nice": false}, "axis": {"title": "COMP.RADICULA (cm)", "values": [0,1,2,3,4,5,6,7,8,9,10,11,12,13,14,15,16,17,18,19,20], "labelExpr": "datum.value % 5 === 0 ? datum.label : ''", "tickSize": {"condition": {"test": "datum.value % 5 === 0", "value": 9}, "value": 4}}}}},
{"data": {"name": "labels"}, "transform": [{"filter": {"field": "c", "equal": "NOVO JALO"}}], "mark": {"type": "text", "font": "DejaVu Sans Mono", "fontWeight": "bold", "fontSize": 16.5, "align": "right", "baseline": "alphabetic", "color": "black"}, "encoding": {"text": {"field": "c", "type": "nominal"},
"x": {"datum": 1.132, "type": "quantitative", "scale": {"domain": [-0.2, 1.2], "nice": false, "zero": false}, "axis": {"title": "PEG (−MPa)", "values": [-0.2,-0.15,-0.1,-0.05,0,0.05,0.1,0.15,0.2,0.25,0.3,0.35,0.4,0.45,0.5,0.55,0.6,0.65,0.7,0.75,0.8,0.85,0.9,0.95,1,1.05,1.1,1.15,1.2], "labelExpr": "datum.value > -0.01 && datum.value < 1.01 && abs(datum.value * 5 - round(datum.value * 5)) < 0.001 ? format(datum.value, '.1f') : ''"}},
"y": {"datum": 17.78, "type": "quantitative", "scale": {"domain": [0, 20], "nice": false}, "axis": {"title": "COMP.RADICULA (cm)", "values": [0,1,2,3,4,5,6,7,8,9,10,11,12,13,14,15,16,17,18,19,20], "labelExpr": "datum.value % 5 === 0 ? datum.label : ''", "tickSize": {"condition": {"test": "datum.value % 5 === 0", "value": 9}, "value": 4}}}}},
{"data": {"name": "labels"}, "transform": [{"filter": {"field": "c", "equal": "NOVO JALO"}}], "mark": {"type": "text", "font": "DejaVu Sans Mono", "fontSize": 16.5, "align": "right", "baseline": "alphabetic", "lineHeight": 17, "color": "black"}, "encoding": {"text": {"field": "eq", "type": "nominal"},
"x": {"datum": 1.132, "type": "quantitative", "scale": {"domain": [-0.2, 1.2], "nice": false, "zero": false}, "axis": {"title": "PEG (−MPa)", "values": [-0.2,-0.15,-0.1,-0.05,0,0.05,0.1,0.15,0.2,0.25,0.3,0.35,0.4,0.45,0.5,0.55,0.6,0.65,0.7,0.75,0.8,0.85,0.9,0.95,1,1.05,1.1,1.15,1.2], "labelExpr": "datum.value > -0.01 && datum.value < 1.01 && abs(datum.value * 5 - round(datum.value * 5)) < 0.001 ? format(datum.value, '.1f') : ''"}},
"y": {"datum": 15.33, "type": "quantitative", "scale": {"domain": [0, 20], "nice": false}, "axis": {"title": "COMP.RADICULA (cm)", "values": [0,1,2,3,4,5,6,7,8,9,10,11,12,13,14,15,16,17,18,19,20], "labelExpr": "datum.value % 5 === 0 ? datum.label : ''", "tickSize": {"condition": {"test": "datum.value % 5 === 0", "value": 9}, "value": 4}}}}}
]},
{"width": 267, "height": 270, "layer": [
{"data": {"name": "curves"}, "transform": [{"filter": {"field": "c", "equal": "JALO PRECOCE"}}], "mark": {"type": "line", "color": "black", "strokeWidth": 1.4, "interpolate": "monotone"}, "encoding": {
"x": {"field": "x", "type": "quantitative", "scale": {"domain": [-0.2, 1.2], "nice": false, "zero": false}, "axis": {"title": "PEG (−MPa)", "values": [-0.2,-0.15,-0.1,-0.05,0,0.05,0.1,0.15,0.2,0.25,0.3,0.35,0.4,0.45,0.5,0.55,0.6,0.65,0.7,0.75,0.8,0.85,0.9,0.95,1,1.05,1.1,1.15,1.2], "labelExpr": "datum.value > -0.01 && datum.value < 1.01 && abs(datum.value * 5 - round(datum.value * 5)) < 0.001 ? format(datum.value, '.1f') : ''"}},
"y": {"field": "m", "type": "quantitative", "scale": {"domain": [0, 20], "nice": false}, "axis": {"title": null, "values": [0,1,2,3,4,5,6,7,8,9,10,11,12,13,14,15,16,17,18,19,20], "labelExpr": "datum.value % 5 === 0 ? datum.label : ''", "tickSize": {"condition": {"test": "datum.value % 5 === 0", "value": 9}, "value": 4}}}}},
{"data": {"name": "means"}, "transform": [{"filter": {"field": "c", "equal": "JALO PRECOCE"}}, {"filter": "isValid(datum.lo)"}], "mark": {"type": "errorbar", "color": "black", "thickness": 1.6, "ticks": {"size": 16, "thickness": 1.8, "color": "black"}}, "encoding": {
"x": {"field": "x", "type": "quantitative", "scale": {"domain": [-0.2, 1.2], "nice": false, "zero": false}, "axis": {"title": "PEG (−MPa)", "values": [-0.2,-0.15,-0.1,-0.05,0,0.05,0.1,0.15,0.2,0.25,0.3,0.35,0.4,0.45,0.5,0.55,0.6,0.65,0.7,0.75,0.8,0.85,0.9,0.95,1,1.05,1.1,1.15,1.2], "labelExpr": "datum.value > -0.01 && datum.value < 1.01 && abs(datum.value * 5 - round(datum.value * 5)) < 0.001 ? format(datum.value, '.1f') : ''"}},
"y": {"field": "lo", "type": "quantitative", "scale": {"domain": [0, 20], "nice": false}, "axis": {"title": null, "values": [0,1,2,3,4,5,6,7,8,9,10,11,12,13,14,15,16,17,18,19,20], "labelExpr": "datum.value % 5 === 0 ? datum.label : ''", "tickSize": {"condition": {"test": "datum.value % 5 === 0", "value": 9}, "value": 4}}}, "y2": {"field": "hi"}}},
{"data": {"name": "means"}, "transform": [{"filter": {"field": "c", "equal": "JALO PRECOCE"}}], "mark": {"type": "circle", "color": "black", "size": 14, "opacity": 1}, "encoding": {
"x": {"field": "x", "type": "quantitative", "scale": {"domain": [-0.2, 1.2], "nice": false, "zero": false}, "axis": {"title": "PEG (−MPa)", "values": [-0.2,-0.15,-0.1,-0.05,0,0.05,0.1,0.15,0.2,0.25,0.3,0.35,0.4,0.45,0.5,0.55,0.6,0.65,0.7,0.75,0.8,0.85,0.9,0.95,1,1.05,1.1,1.15,1.2], "labelExpr": "datum.value > -0.01 && datum.value < 1.01 && abs(datum.value * 5 - round(datum.value * 5)) < 0.001 ? format(datum.value, '.1f') : ''"}},
"y": {"field": "m", "type": "quantitative", "scale": {"domain": [0, 20], "nice": false}, "axis": {"title": null, "values": [0,1,2,3,4,5,6,7,8,9,10,11,12,13,14,15,16,17,18,19,20], "labelExpr": "datum.value % 5 === 0 ? datum.label : ''", "tickSize": {"condition": {"test": "datum.value % 5 === 0", "value": 9}, "value": 4}}}}},
{"data": {"name": "labels"}, "transform": [{"filter": {"field": "c", "equal": "JALO PRECOCE"}}], "mark": {"type": "text", "font": "DejaVu Sans Mono", "fontWeight": "bold", "fontSize": 16.5, "align": "right", "baseline": "alphabetic", "color": "black"}, "encoding": {"text": {"field": "c", "type": "nominal"},
"x": {"datum": 1.137, "type": "quantitative", "scale": {"domain": [-0.2, 1.2], "nice": false, "zero": false}, "axis": {"title": "PEG (−MPa)", "values": [-0.2,-0.15,-0.1,-0.05,0,0.05,0.1,0.15,0.2,0.25,0.3,0.35,0.4,0.45,0.5,0.55,0.6,0.65,0.7,0.75,0.8,0.85,0.9,0.95,1,1.05,1.1,1.15,1.2], "labelExpr": "datum.value > -0.01 && datum.value < 1.01 && abs(datum.value * 5 - round(datum.value * 5)) < 0.001 ? format(datum.value, '.1f') : ''"}},
"y": {"datum": 17.85, "type": "quantitative", "scale": {"domain": [0, 20], "nice": false}, "axis": {"title": null, "values": [0,1,2,3,4,5,6,7,8,9,10,11,12,13,14,15,16,17,18,19,20], "labelExpr": "datum.value % 5 === 0 ? datum.label : ''", "tickSize": {"condition": {"test": "datum.value % 5 === 0", "value": 9}, "value": 4}}}}},
{"data": {"name": "labels"}, "transform": [{"filter": {"field": "c", "equal": "JALO PRECOCE"}}], "mark": {"type": "text", "font": "DejaVu Sans Mono", "fontSize": 16.5, "align": "right", "baseline": "alphabetic", "lineHeight": 20.5, "color": "black"}, "encoding": {"text": {"field": "eq", "type": "nominal"},
"x": {"datum": 1.137, "type": "quantitative", "scale": {"domain": [-0.2, 1.2], "nice": false, "zero": false}, "axis": {"title": "PEG (−MPa)", "values": [-0.2,-0.15,-0.1,-0.05,0,0.05,0.1,0.15,0.2,0.25,0.3,0.35,0.4,0.45,0.5,0.55,0.6,0.65,0.7,0.75,0.8,0.85,0.9,0.95,1,1.05,1.1,1.15,1.2], "labelExpr": "datum.value > -0.01 && datum.value < 1.01 && abs(datum.value * 5 - round(datum.value * 5)) < 0.001 ? format(datum.value, '.1f') : ''"}},
"y": {"datum": 15.48, "type": "quantitative", "scale": {"domain": [0, 20], "nice": false}, "axis": {"title": null, "values": [0,1,2,3,4,5,6,7,8,9,10,11,12,13,14,15,16,17,18,19,20], "labelExpr": "datum.value % 5 === 0 ? datum.label : ''", "tickSize": {"condition": {"test": "datum.value % 5 === 0", "value": 9}, "value": 4}}}}}
]}
]},
{"spacing": 10, "hconcat": [
{"width": 267, "height": 270, "layer": [
{"data": {"name": "curves"}, "transform": [{"filter": {"field": "c", "equal": "XAMEGO"}}], "mark": {"type": "line", "color": "black", "strokeWidth": 1.4, "interpolate": "monotone"}, "encoding": {
"x": {"field": "x", "type": "quantitative", "scale": {"domain": [-0.2, 1.2], "nice": false, "zero": false}, "axis": {"title": "PEG (−MPa)", "values": [-0.2,-0.15,-0.1,-0.05,0,0.05,0.1,0.15,0.2,0.25,0.3,0.35,0.4,0.45,0.5,0.55,0.6,0.65,0.7,0.75,0.8,0.85,0.9,0.95,1,1.05,1.1,1.15,1.2], "labelExpr": "datum.value > -0.01 && datum.value < 1.01 && abs(datum.value * 5 - round(datum.value * 5)) < 0.001 ? format(datum.value, '.1f') : ''"}},
"y": {"field": "m", "type": "quantitative", "scale": {"domain": [0, 20], "nice": false}, "axis": {"title": "COMP.RADICULA (cm)", "values": [0,1,2,3,4,5,6,7,8,9,10,11,12,13,14,15,16,17,18,19,20], "labelExpr": "datum.value % 5 === 0 ? datum.label : ''", "tickSize": {"condition": {"test": "datum.value % 5 === 0", "value": 9}, "value": 4}}}}},
{"data": {"name": "means"}, "transform": [{"filter": {"field": "c", "equal": "XAMEGO"}}, {"filter": "isValid(datum.lo)"}], "mark": {"type": "errorbar", "color": "black", "thickness": 1.6, "ticks": {"size": 16, "thickness": 1.8, "color": "black"}}, "encoding": {
"x": {"field": "x", "type": "quantitative", "scale": {"domain": [-0.2, 1.2], "nice": false, "zero": false}, "axis": {"title": "PEG (−MPa)", "values": [-0.2,-0.15,-0.1,-0.05,0,0.05,0.1,0.15,0.2,0.25,0.3,0.35,0.4,0.45,0.5,0.55,0.6,0.65,0.7,0.75,0.8,0.85,0.9,0.95,1,1.05,1.1,1.15,1.2], "labelExpr": "datum.value > -0.01 && datum.value < 1.01 && abs(datum.value * 5 - round(datum.value * 5)) < 0.001 ? format(datum.value, '.1f') : ''"}},
"y": {"field": "lo", "type": "quantitative", "scale": {"domain": [0, 20], "nice": false}, "axis": {"title": "COMP.RADICULA (cm)", "values": [0,1,2,3,4,5,6,7,8,9,10,11,12,13,14,15,16,17,18,19,20], "labelExpr": "datum.value % 5 === 0 ? datum.label : ''", "tickSize": {"condition": {"test": "datum.value % 5 === 0", "value": 9}, "value": 4}}}, "y2": {"field": "hi"}}},
{"data": {"name": "means"}, "transform": [{"filter": {"field": "c", "equal": "XAMEGO"}}], "mark": {"type": "circle", "color": "black", "size": 14, "opacity": 1}, "encoding": {
"x": {"field": "x", "type": "quantitative", "scale": {"domain": [-0.2, 1.2], "nice": false, "zero": false}, "axis": {"title": "PEG (−MPa)", "values": [-0.2,-0.15,-0.1,-0.05,0,0.05,0.1,0.15,0.2,0.25,0.3,0.35,0.4,0.45,0.5,0.55,0.6,0.65,0.7,0.75,0.8,0.85,0.9,0.95,1,1.05,1.1,1.15,1.2], "labelExpr": "datum.value > -0.01 && datum.value < 1.01 && abs(datum.value * 5 - round(datum.value * 5)) < 0.001 ? format(datum.value, '.1f') : ''"}},
"y": {"field": "m", "type": "quantitative", "scale": {"domain": [0, 20], "nice": false}, "axis": {"title": "COMP.RADICULA (cm)", "values": [0,1,2,3,4,5,6,7,8,9,10,11,12,13,14,15,16,17,18,19,20], "labelExpr": "datum.value % 5 === 0 ? datum.label : ''", "tickSize": {"condition": {"test": "datum.value % 5 === 0", "value": 9}, "value": 4}}}}},
{"data": {"name": "labels"}, "transform": [{"filter": {"field": "c", "equal": "XAMEGO"}}], "mark": {"type": "text", "font": "DejaVu Sans Mono", "fontWeight": "bold", "fontSize": 16.5, "align": "right", "baseline": "alphabetic", "color": "black"}, "encoding": {"text": {"field": "c", "type": "nominal"},
"x": {"datum": 1.122, "type": "quantitative", "scale": {"domain": [-0.2, 1.2], "nice": false, "zero": false}, "axis": {"title": "PEG (−MPa)", "values": [-0.2,-0.15,-0.1,-0.05,0,0.05,0.1,0.15,0.2,0.25,0.3,0.35,0.4,0.45,0.5,0.55,0.6,0.65,0.7,0.75,0.8,0.85,0.9,0.95,1,1.05,1.1,1.15,1.2], "labelExpr": "datum.value > -0.01 && datum.value < 1.01 && abs(datum.value * 5 - round(datum.value * 5)) < 0.001 ? format(datum.value, '.1f') : ''"}},
"y": {"datum": 17.85, "type": "quantitative", "scale": {"domain": [0, 20], "nice": false}, "axis": {"title": "COMP.RADICULA (cm)", "values": [0,1,2,3,4,5,6,7,8,9,10,11,12,13,14,15,16,17,18,19,20], "labelExpr": "datum.value % 5 === 0 ? datum.label : ''", "tickSize": {"condition": {"test": "datum.value % 5 === 0", "value": 9}, "value": 4}}}}},
{"data": {"name": "labels"}, "transform": [{"filter": {"field": "c", "equal": "XAMEGO"}}], "mark": {"type": "text", "font": "DejaVu Sans Mono", "fontSize": 16.5, "align": "right", "baseline": "alphabetic", "lineHeight": 16.5, "color": "black"}, "encoding": {"text": {"field": "eq", "type": "nominal"},
"x": {"datum": 1.122, "type": "quantitative", "scale": {"domain": [-0.2, 1.2], "nice": false, "zero": false}, "axis": {"title": "PEG (−MPa)", "values": [-0.2,-0.15,-0.1,-0.05,0,0.05,0.1,0.15,0.2,0.25,0.3,0.35,0.4,0.45,0.5,0.55,0.6,0.65,0.7,0.75,0.8,0.85,0.9,0.95,1,1.05,1.1,1.15,1.2], "labelExpr": "datum.value > -0.01 && datum.value < 1.01 && abs(datum.value * 5 - round(datum.value * 5)) < 0.001 ? format(datum.value, '.1f') : ''"}},
"y": {"datum": 14.52, "type": "quantitative", "scale": {"domain": [0, 20], "nice": false}, "axis": {"title": "COMP.RADICULA (cm)", "values": [0,1,2,3,4,5,6,7,8,9,10,11,12,13,14,15,16,17,18,19,20], "labelExpr": "datum.value % 5 === 0 ? datum.label : ''", "tickSize": {"condition": {"test": "datum.value % 5 === 0", "value": 9}, "value": 4}}}}}
]},
{"width": 267, "height": 270, "layer": [
{"data": {"name": "curves"}, "transform": [{"filter": {"field": "c", "equal": "ONIX"}}], "mark": {"type": "line", "color": "black", "strokeWidth": 1.4, "interpolate": "monotone"}, "encoding": {
"x": {"field": "x", "type": "quantitative", "scale": {"domain": [-0.2, 1.2], "nice": false, "zero": false}, "axis": {"title": "PEG (−MPa)", "values": [-0.2,-0.15,-0.1,-0.05,0,0.05,0.1,0.15,0.2,0.25,0.3,0.35,0.4,0.45,0.5,0.55,0.6,0.65,0.7,0.75,0.8,0.85,0.9,0.95,1,1.05,1.1,1.15,1.2], "labelExpr": "datum.value > -0.01 && datum.value < 1.01 && abs(datum.value * 5 - round(datum.value * 5)) < 0.001 ? format(datum.value, '.1f') : ''"}},
"y": {"field": "m", "type": "quantitative", "scale": {"domain": [0, 20], "nice": false}, "axis": {"title": null, "values": [0,1,2,3,4,5,6,7,8,9,10,11,12,13,14,15,16,17,18,19,20], "labelExpr": "datum.value % 5 === 0 ? datum.label : ''", "tickSize": {"condition": {"test": "datum.value % 5 === 0", "value": 9}, "value": 4}}}}},
{"data": {"name": "means"}, "transform": [{"filter": {"field": "c", "equal": "ONIX"}}, {"filter": "isValid(datum.lo)"}], "mark": {"type": "errorbar", "color": "black", "thickness": 1.6, "ticks": {"size": 16, "thickness": 1.8, "color": "black"}}, "encoding": {
"x": {"field": "x", "type": "quantitative", "scale": {"domain": [-0.2, 1.2], "nice": false, "zero": false}, "axis": {"title": "PEG (−MPa)", "values": [-0.2,-0.15,-0.1,-0.05,0,0.05,0.1,0.15,0.2,0.25,0.3,0.35,0.4,0.45,0.5,0.55,0.6,0.65,0.7,0.75,0.8,0.85,0.9,0.95,1,1.05,1.1,1.15,1.2], "labelExpr": "datum.value > -0.01 && datum.value < 1.01 && abs(datum.value * 5 - round(datum.value * 5)) < 0.001 ? format(datum.value, '.1f') : ''"}},
"y": {"field": "lo", "type": "quantitative", "scale": {"domain": [0, 20], "nice": false}, "axis": {"title": null, "values": [0,1,2,3,4,5,6,7,8,9,10,11,12,13,14,15,16,17,18,19,20], "labelExpr": "datum.value % 5 === 0 ? datum.label : ''", "tickSize": {"condition": {"test": "datum.value % 5 === 0", "value": 9}, "value": 4}}}, "y2": {"field": "hi"}}},
{"data": {"name": "means"}, "transform": [{"filter": {"field": "c", "equal": "ONIX"}}], "mark": {"type": "circle", "color": "black", "size": 14, "opacity": 1}, "encoding": {
"x": {"field": "x", "type": "quantitative", "scale": {"domain": [-0.2, 1.2], "nice": false, "zero": false}, "axis": {"title": "PEG (−MPa)", "values": [-0.2,-0.15,-0.1,-0.05,0,0.05,0.1,0.15,0.2,0.25,0.3,0.35,0.4,0.45,0.5,0.55,0.6,0.65,0.7,0.75,0.8,0.85,0.9,0.95,1,1.05,1.1,1.15,1.2], "labelExpr": "datum.value > -0.01 && datum.value < 1.01 && abs(datum.value * 5 - round(datum.value * 5)) < 0.001 ? format(datum.value, '.1f') : ''"}},
"y": {"field": "m", "type": "quantitative", "scale": {"domain": [0, 20], "nice": false}, "axis": {"title": null, "values": [0,1,2,3,4,5,6,7,8,9,10,11,12,13,14,15,16,17,18,19,20], "labelExpr": "datum.value % 5 === 0 ? datum.label : ''", "tickSize": {"condition": {"test": "datum.value % 5 === 0", "value": 9}, "value": 4}}}}},
{"data": {"name": "labels"}, "transform": [{"filter": {"field": "c", "equal": "ONIX"}}], "mark": {"type": "text", "font": "DejaVu Sans Mono", "fontWeight": "bold", "fontSize": 16.5, "align": "right", "baseline": "alphabetic", "color": "black"}, "encoding": {"text": {"field": "c", "type": "nominal"},
"x": {"datum": 1.11, "type": "quantitative", "scale": {"domain": [-0.2, 1.2], "nice": false, "zero": false}, "axis": {"title": "PEG (−MPa)", "values": [-0.2,-0.15,-0.1,-0.05,0,0.05,0.1,0.15,0.2,0.25,0.3,0.35,0.4,0.45,0.5,0.55,0.6,0.65,0.7,0.75,0.8,0.85,0.9,0.95,1,1.05,1.1,1.15,1.2], "labelExpr": "datum.value > -0.01 && datum.value < 1.01 && abs(datum.value * 5 - round(datum.value * 5)) < 0.001 ? format(datum.value, '.1f') : ''"}},
"y": {"datum": 17.85, "type": "quantitative", "scale": {"domain": [0, 20], "nice": false}, "axis": {"title": null, "values": [0,1,2,3,4,5,6,7,8,9,10,11,12,13,14,15,16,17,18,19,20], "labelExpr": "datum.value % 5 === 0 ? datum.label : ''", "tickSize": {"condition": {"test": "datum.value % 5 === 0", "value": 9}, "value": 4}}}}},
{"data": {"name": "labels"}, "transform": [{"filter": {"field": "c", "equal": "ONIX"}}], "mark": {"type": "text", "font": "DejaVu Sans Mono", "fontSize": 16.5, "align": "right", "baseline": "alphabetic", "lineHeight": 20, "color": "black"}, "encoding": {"text": {"field": "eq", "type": "nominal"},
"x": {"datum": 1.11, "type": "quantitative", "scale": {"domain": [-0.2, 1.2], "nice": false, "zero": false}, "axis": {"title": "PEG (−MPa)", "values": [-0.2,-0.15,-0.1,-0.05,0,0.05,0.1,0.15,0.2,0.25,0.3,0.35,0.4,0.45,0.5,0.55,0.6,0.65,0.7,0.75,0.8,0.85,0.9,0.95,1,1.05,1.1,1.15,1.2], "labelExpr": "datum.value > -0.01 && datum.value < 1.01 && abs(datum.value * 5 - round(datum.value * 5)) < 0.001 ? format(datum.value, '.1f') : ''"}},
"y": {"datum": 15.26, "type": "quantitative", "scale": {"domain": [0, 20], "nice": false}, "axis": {"title": null, "values": [0,1,2,3,4,5,6,7,8,9,10,11,12,13,14,15,16,17,18,19,20], "labelExpr": "datum.value % 5 === 0 ? datum.label : ''", "tickSize": {"condition": {"test": "datum.value % 5 === 0", "value": 9}, "value": 4}}}}}
]}
]}
],
"config": {
"view": {"stroke": "black", "strokeWidth": 1.5},
"axis": {"grid": false, "domainColor": "black", "domainWidth": 1.5, "tickColor": "black", "tickWidth": 1.2, "labelColor": "black", "titleColor": "black", "labelFont": "DejaVu Sans", "labelOverlap": false},
"axisX": {"tickSize": 5, "labelPadding": 1, "titlePadding": 1, "titleFont": "DejaVu Sans", "titleFontSize": 14, "titleFontWeight": "normal", "labelFlush": false, "labelFontSize": 11.5},
"axisY": {"labelPadding": 2, "titlePadding": 25, "titleFont": "Liberation Serif", "titleFontSize": 18, "titleFontWeight": "normal", "labelFontSize": 14}
}
}
